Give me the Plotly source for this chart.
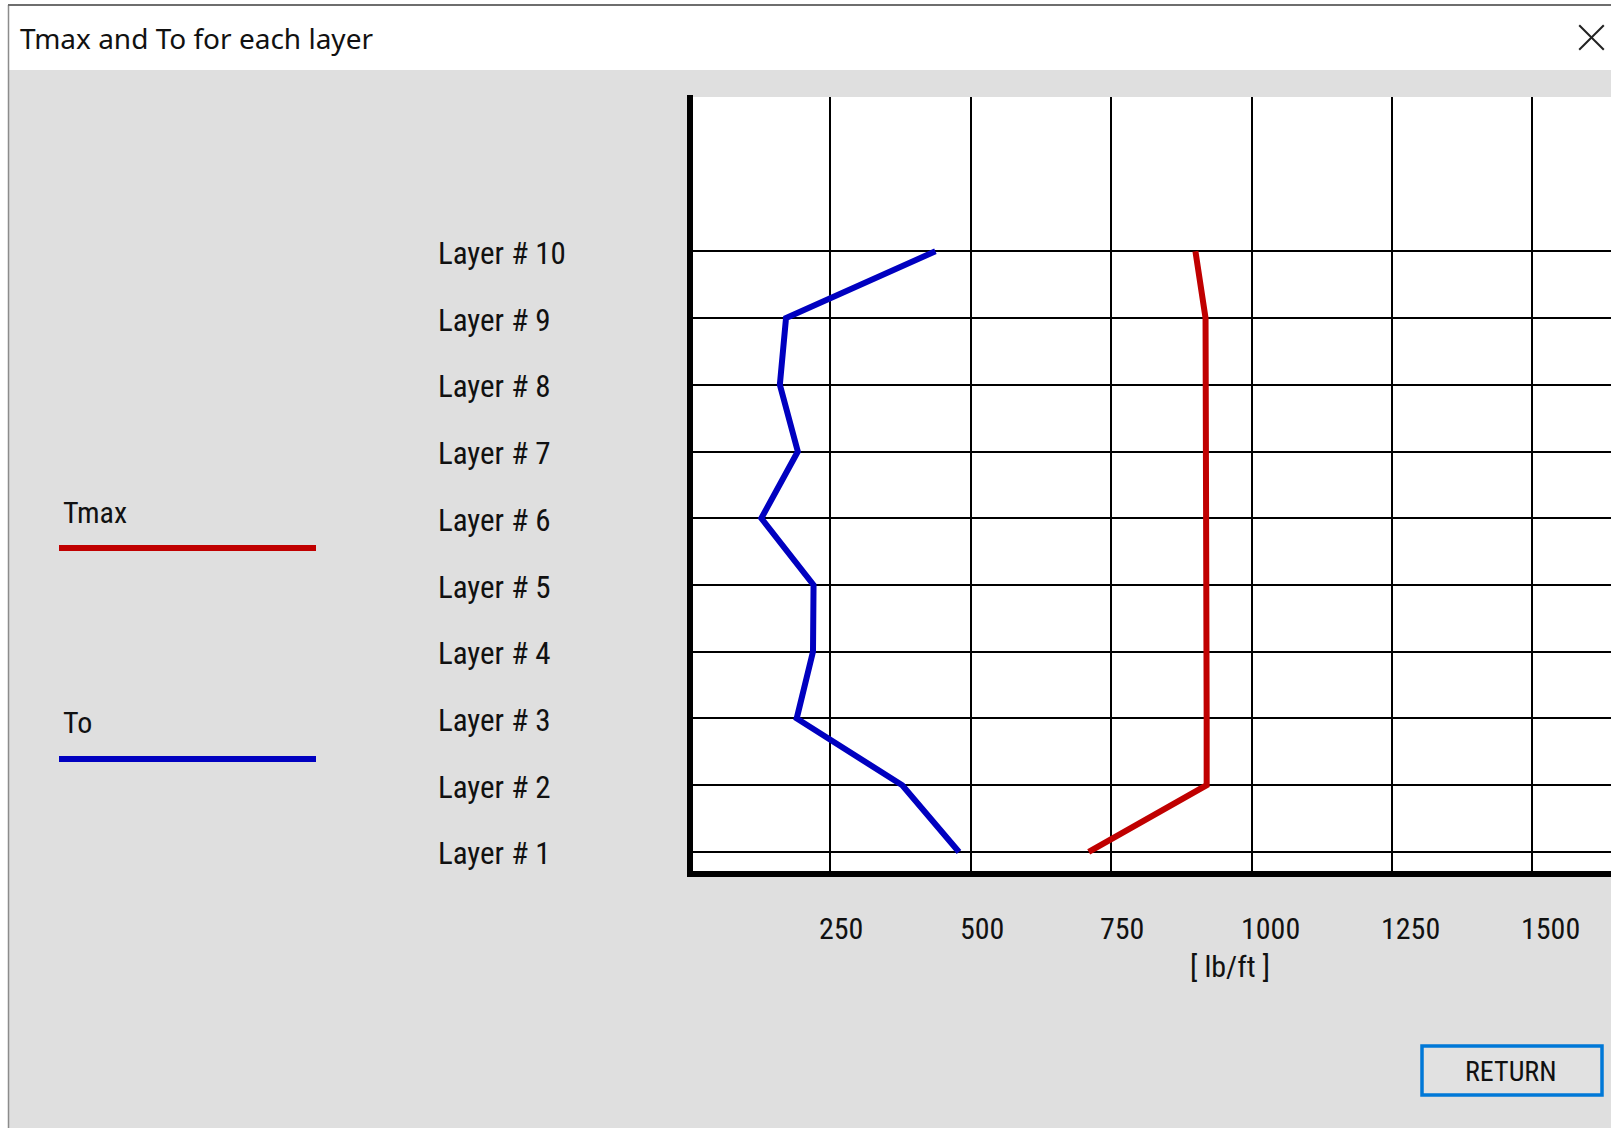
import plotly.graph_objects as go

# ---- data ----
layers = [1, 2, 3, 4, 5, 6, 7, 8, 9, 10]
layer_labels = ["Layer # 1", "Layer # 2", "Layer # 3", "Layer # 4", "Layer # 5",
                "Layer # 6", "Layer # 7", "Layer # 8", "Layer # 9", "Layer # 10"]
tmax = [710, 920, 920, 920, 920, 920, 920, 920, 918, 900]
to_vals = [479, 378, 190, 219, 220, 127, 192, 160, 171, 437]
x_ticks = [250, 500, 750, 1000, 1250, 1500]
x_tick_labels = ["250", "500", "750", "1000", "1250", "1500"]

W, H = 1611, 1128
L, R, T, B = 690, 0, 97, 254
PW, PH = W - L - R, H - T - B

def X(px):
    return (px - L) / PW

def Y(py):
    return (H - B - py) / PH

BG = "#dfdfdf"
NARROW = "Liberation Sans Narrow, Roboto Condensed, DejaVu Sans Condensed, Arial Narrow, Liberation Sans, sans-serif"
UI = "Noto Sans, Open Sans, Liberation Sans, sans-serif"
RED = "#c00000"
BLUE = "#0000c0"

fig = go.Figure()
fig.add_trace(go.Scatter(x=tmax, y=layers, mode="lines", name="Tmax",
                         line=dict(color=RED, width=6), hoverinfo="x+y"))
fig.add_trace(go.Scatter(x=to_vals, y=layers, mode="lines", name="To",
                         line=dict(color=BLUE, width=6), hoverinfo="x+y"))

shapes = []
# title bar
shapes.append(dict(type="rect", xref="paper", yref="paper", x0=X(0), x1=X(W), y0=Y(70), y1=Y(0),
                   fillcolor="white", line=dict(width=0), layer="below"))
# left white strip and window border
shapes.append(dict(type="rect", xref="paper", yref="paper", x0=X(0), x1=X(8), y0=Y(H), y1=Y(0),
                   fillcolor="white", line=dict(width=0), layer="below"))
shapes.append(dict(type="line", xref="paper", yref="paper", x0=X(8.5), x1=X(8.5), y0=Y(H), y1=Y(5),
                   line=dict(color="#8c8c8c", width=1.5)))
shapes.append(dict(type="line", xref="paper", yref="paper", x0=X(8), x1=X(W), y0=Y(5), y1=Y(5),
                   line=dict(color="#6e6e6e", width=2)))
# close X
cx, cy, hs = 1591.5, 37.5, 12.3
shapes.append(dict(type="line", xref="paper", yref="paper", x0=X(cx - hs), x1=X(cx + hs),
                   y0=Y(cy - hs), y1=Y(cy + hs), line=dict(color="#222222", width=2)))
shapes.append(dict(type="line", xref="paper", yref="paper", x0=X(cx - hs), x1=X(cx + hs),
                   y0=Y(cy + hs), y1=Y(cy - hs), line=dict(color="#222222", width=2)))
# thick axes
shapes.append(dict(type="line", xref="paper", yref="paper", x0=X(690), x1=X(690), y0=Y(877), y1=Y(95),
                   line=dict(color="black", width=6)))
shapes.append(dict(type="line", xref="paper", yref="paper", x0=X(687), x1=X(W), y0=Y(874), y1=Y(874),
                   line=dict(color="black", width=6)))
# legend lines
shapes.append(dict(type="line", xref="paper", yref="paper", x0=X(59), x1=X(316), y0=Y(548), y1=Y(548),
                   line=dict(color=RED, width=6)))
shapes.append(dict(type="line", xref="paper", yref="paper", x0=X(59), x1=X(316), y0=Y(759), y1=Y(759),
                   line=dict(color=BLUE, width=6)))
# RETURN button
shapes.append(dict(type="rect", xref="paper", yref="paper", x0=X(1422), x1=X(1602), y0=Y(1095), y1=Y(1046),
                   fillcolor="#e1e1e1", line=dict(color="#0078d7", width=3.5)))

annotations = []
annotations.append(dict(text="Tmax and To for each layer", xref="paper", yref="paper",
                        x=X(18), y=Y(38), xanchor="left", yanchor="middle", showarrow=False,
                        font=dict(family=UI, size=28, color="#111111")))
for lv, lab in zip(layers, layer_labels):
    annotations.append(dict(text=lab, xref="paper", yref="y", x=X(436), y=lv, yshift=-2,
                            xanchor="left", yanchor="middle", showarrow=False,
                            font=dict(family=NARROW, size=31, color="#111111")))
for tv, tl in zip(x_ticks, x_tick_labels):
    annotations.append(dict(text=tl, xref="x", yref="paper", x=tv, xshift=-13, y=Y(928),
                            xanchor="left", yanchor="middle", showarrow=False,
                            font=dict(family=NARROW, size=30, color="#111111")))
annotations.append(dict(text="[ lb/ft ]", xref="paper", yref="paper", x=X(1230), y=Y(966),
                        xanchor="center", yanchor="middle", showarrow=False,
                        font=dict(family=NARROW, size=30, color="#111111")))
annotations.append(dict(text="Tmax", xref="paper", yref="paper", x=X(61), y=Y(512),
                        xanchor="left", yanchor="middle", showarrow=False,
                        font=dict(family=NARROW, size=30, color="#111111")))
annotations.append(dict(text="To", xref="paper", yref="paper", x=X(61), y=Y(722),
                        xanchor="left", yanchor="middle", showarrow=False,
                        font=dict(family=NARROW, size=30, color="#111111")))
annotations.append(dict(text="RETURN", xref="paper", yref="paper", x=X(1511), y=Y(1071),
                        xanchor="center", yanchor="middle", showarrow=False,
                        font=dict(family=NARROW, size=28, color="#111111")))

fig.update_layout(
    width=W, height=H,
    margin=dict(l=L, r=R, t=T, b=B, pad=0),
    paper_bgcolor=BG, plot_bgcolor="white",
    showlegend=False,
    shapes=shapes, annotations=annotations,
    xaxis=dict(range=[0, 1640], tickvals=x_ticks, showticklabels=False, ticks="",
               showgrid=True, gridcolor="black", gridwidth=2, zeroline=False, showline=False,
               fixedrange=True),
    yaxis=dict(range=[0.67, 12.312], tickvals=layers, showticklabels=False, ticks="",
               showgrid=True, gridcolor="black", gridwidth=2, zeroline=False, showline=False,
               fixedrange=True),
)

fig.write_html(
    "out.html",
    config={"displayModeBar": False},
    post_script="document.body.style.margin='0';document.body.style.overflow='hidden';",
)
